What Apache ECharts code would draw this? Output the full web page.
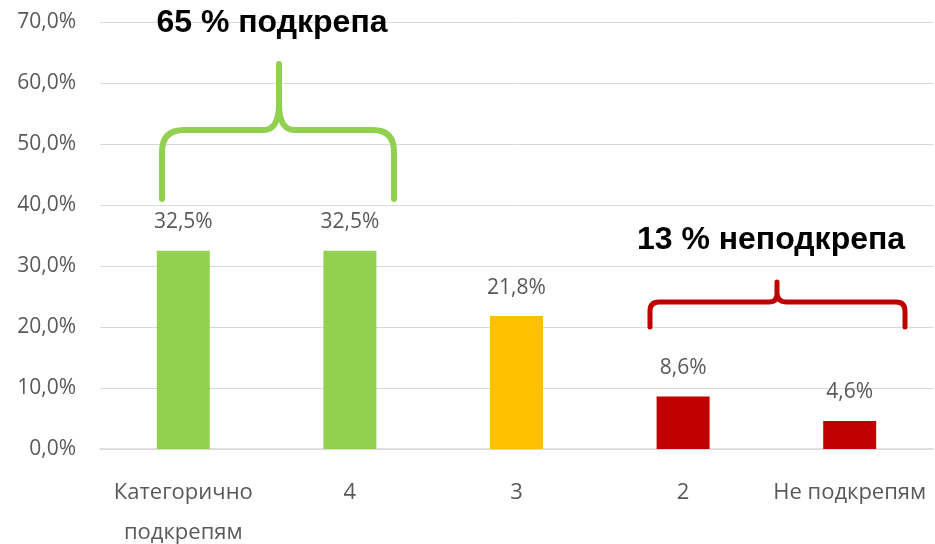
<!DOCTYPE html>
<html>
<head>
<meta charset="utf-8">
<script src="https://cdn.jsdelivr.net/npm/echarts@6/dist/echarts.min.js"></script>
<style>
  html, body { margin: 0; padding: 0; background: #fff; }
  #main { width: 935px; height: 544px; }
</style>
</head>
<body>
<div id="main"></div>
<script>
var categories = ['Категорично\nподкрепям', '4', '3', '2', 'Не подкрепям'];
var values = [32.5, 32.5, 21.8, 8.6, 4.6];
var colors = ['#92D050', '#92D050', '#FFC000', '#C00000', '#C00000'];

function pct(v) {
    return v.toFixed(1).replace('.', ',') + '%';
}

var font = '"Open Sans", sans-serif';

// curly braces over the groups (annotation only)
var braces = [
    { path: 'M162 199 L162 152 Q162 130 184 130 L264 130 Q278 130 279 106 L279 64 M279 106 Q280 130 294 130 L373 130 Q394 130 394 152 L394 199', color: '#92D050', width: 6 },
    { path: 'M650 327 L650 311 Q650 302 659 302 L769 302 Q777 302 777 294 L777 282 M777 294 Q778 302 786 302 L896 302 Q905 302 905 311 L905 327', color: '#C00000', width: 5 }
];

option = {
    animation: false,
    grid: { left: 100, right: 2, top: 22, bottom: 95, outerBoundsMode: 'none', containLabel: false },
    xAxis: {
        type: 'category',
        data: categories,
        axisTick: { show: false },
        axisLine: { lineStyle: { color: '#D9D9D9', width: 1.5 } },
        axisLabel: {
            color: '#595959', fontSize: 22, fontFamily: font,
            lineHeight: 40, margin: 24, interval: 0
        }
    },
    yAxis: {
        type: 'value',
        min: 0, max: 70, interval: 10,
        axisLine: { show: false },
        axisTick: { show: false },
        splitLine: { lineStyle: { color: '#D9D9D9', width: 1 } },
        axisLabel: {
            color: '#595959', fontSize: 21, fontFamily: font, margin: 24,
            formatter: pct
        }
    },
    series: [{
        type: 'bar',
        barWidth: 53,
        data: values.map(function (v, i) {
            return { value: v, itemStyle: { color: colors[i] } };
        }),
        label: {
            show: true, position: 'top', distance: 18,
            color: '#595959', fontSize: 21, fontFamily: font,
            formatter: function (p) { return pct(p.value); }
        }
    }, {
        type: 'custom',
        silent: true,
        data: [0, 1],
        renderItem: function (params, api) {
            var b = braces[params.dataIndex];
            return {
                type: 'path',
                shape: { pathData: b.path },
                style: { fill: 'none', stroke: b.color, lineWidth: b.width, lineCap: 'round', lineJoin: 'round' }
            };
        }
    }],
    graphic: [
        {
            type: 'text', x: 272, y: 23, z: 100,
            style: {
                text: '65 % подкрепа', fill: '#000', fontSize: 32, fontWeight: 'bold',
                fontFamily: '"Liberation Sans", Arial, sans-serif', align: 'center', verticalAlign: 'middle'
            }
        },
        {
            type: 'text', x: 771, y: 240, z: 100,
            style: {
                text: '13 % неподкрепа', fill: '#000', fontSize: 32, fontWeight: 'bold',
                fontFamily: '"Liberation Sans", Arial, sans-serif', align: 'center', verticalAlign: 'middle'
            }
        }
    ]
};
var myChart = echarts.init(document.getElementById('main'));
myChart.setOption(option);
</script>
</body>
</html>
